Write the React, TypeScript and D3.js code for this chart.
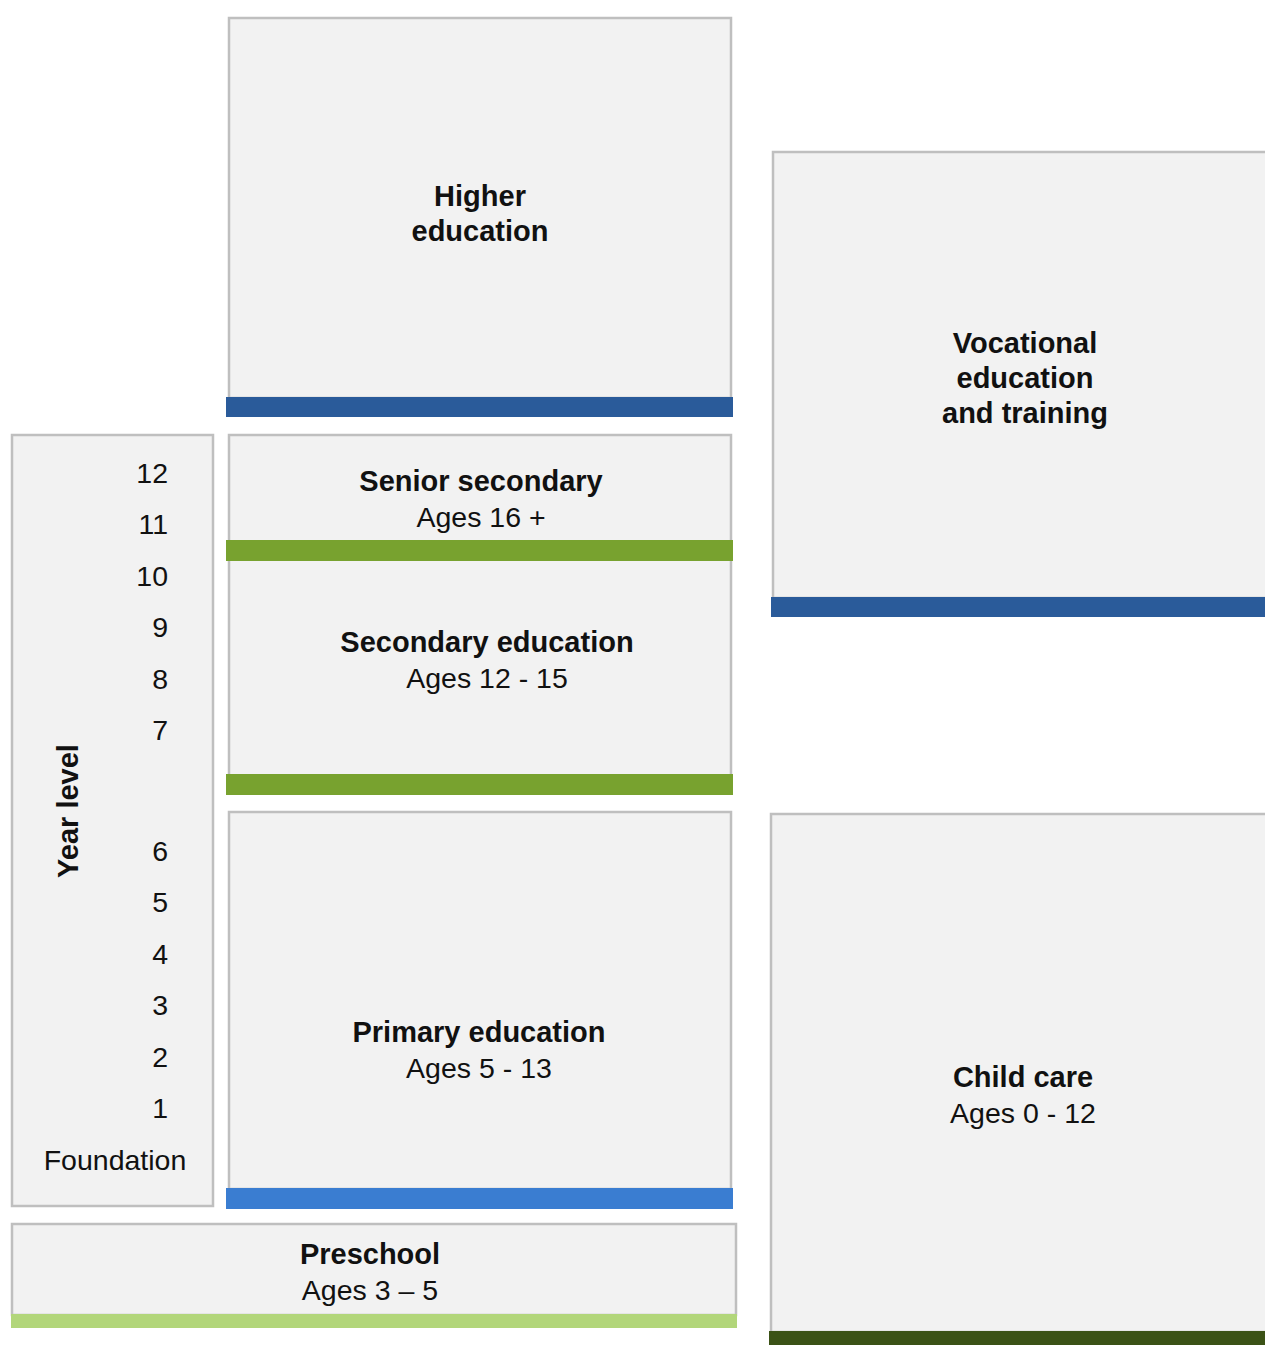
import React from "react";
import * as d3 from "d3";

// ---- data ----
const stageNames = [
  "Higher education",
  "Vocational education and training",
  "Senior secondary",
  "Secondary education",
  "Primary education",
  "Child care",
  "Preschool",
];
const stageTitleLines = [
  ["Higher", "education"],
  ["Vocational", "education", "and training"],
  ["Senior secondary"],
  ["Secondary education"],
  ["Primary education"],
  ["Child care"],
  ["Preschool"],
];
const stageAges = ["", "", "Ages 16 +", "Ages 12 - 15", "Ages 5 - 13", "Ages 0 - 12", "Ages 3 – 5"];
const upperYearLevels = [12, 11, 10, 9, 8, 7];
const lowerYearLevels = [6, 5, 4, 3, 2, 1, 0];
const yearLabel = (v: number) => (v === 0 ? "Foundation" : String(v));
const axisTitle = "Year level";

// ---- layout (positions / styles) ----
const W = 1265;
const H = 1345;
const FONT = "'Liberation Sans', Arial, sans-serif";
const BOX_FILL = "#F2F2F2";
const BOX_STROKE = "#BFBFBF";

type Box = { x0: number; y0: number; x1: number; y1: number };
type Bar = { x0: number; x1: number; y0: number; y1: number; color: string };

const boxes: Box[] = [
  { x0: 229, y0: 18, x1: 731, y1: 398 },
  { x0: 773, y0: 152, x1: 1268, y1: 598 },
  { x0: 229, y0: 435, x1: 731, y1: 776 },
  { x0: 229, y0: 812, x1: 731, y1: 1189 },
  { x0: 12, y0: 435, x1: 213, y1: 1206 },
  { x0: 771, y0: 814, x1: 1268, y1: 1332 },
  { x0: 12, y0: 1224, x1: 736, y1: 1315 },
];
const bars: Bar[] = [
  { x0: 226, x1: 733, y0: 397, y1: 417, color: "#2A5B9A" },
  { x0: 771, x1: 1265, y0: 597, y1: 617, color: "#2A5B9A" },
  { x0: 226, x1: 733, y0: 540, y1: 561, color: "#78A22F" },
  { x0: 226, x1: 733, y0: 774, y1: 795, color: "#78A22F" },
  { x0: 226, x1: 733, y0: 1188, y1: 1209, color: "#3A7DD1" },
  { x0: 769, x1: 1265, y0: 1331, y1: 1345, color: "#3B5216" },
  { x0: 11, x1: 737, y0: 1314, y1: 1328, color: "#B2D67A" },
];
// text anchor for each stage [cx, firstLineY]
const stageTextPos: [number, number][] = [
  [480, 196],
  [1025, 343],
  [481, 481],
  [487, 642],
  [479, 1032],
  [1023, 1077],
  [370, 1254],
];

const LINE = 35;
const FS_BOLD = 29;
const FS = 28.5;

export default function App() {
  React.useEffect(() => {
    document.body.style.margin = "0";
    document.body.style.overflow = "hidden";
  }, []);

  const yUpper = d3.scaleLinear().domain([12, 7]).range([473, 730]);
  const yLower = d3.scaleLinear().domain([6, 0]).range([851, 1160]);

  return (
    <svg
      width={W}
      height={H}
      style={{ position: "absolute", left: 0, top: 0, display: "block", background: "#fff" }}
      fontFamily={FONT}
    >
      {boxes.map((b, i) => (
        <rect
          key={"box" + i}
          x={b.x0}
          y={b.y0}
          width={b.x1 - b.x0}
          height={b.y1 - b.y0}
          fill={BOX_FILL}
          stroke={BOX_STROKE}
          strokeWidth={2.5}
        />
      ))}
      {bars.map((b, i) => (
        <rect key={"bar" + i} x={b.x0} y={b.y0} width={b.x1 - b.x0} height={b.y1 - b.y0} fill={b.color} />
      ))}
      {stageNames.map((name, i) => {
        const [cx, y0] = stageTextPos[i];
        const lines = stageTitleLines[i];
        return (
          <g key={name} textAnchor="middle" fill="#111">
            {lines.map((ln, j) => (
              <text key={j} x={cx} y={y0 + j * LINE} dy="0.35em" fontSize={FS_BOLD} fontWeight="bold">
                {ln}
              </text>
            ))}
            {stageAges[i] && (
              <text x={cx} y={y0 + lines.length * LINE + 1} dy="0.35em" fontSize={FS}>
                {stageAges[i]}
              </text>
            )}
          </g>
        );
      })}
      {upperYearLevels.map((v) => (
        <text key={"u" + v} x={168} y={yUpper(v)} dy="0.35em" fontSize={FS} textAnchor="end" fill="#111">
          {yearLabel(v)}
        </text>
      ))}
      {lowerYearLevels.map((v) => (
        <text
          key={"l" + v}
          x={v === 0 ? 115 : 168}
          y={yLower(v)}
          dy="0.35em"
          fontSize={FS}
          textAnchor={v === 0 ? "middle" : "end"}
          fill="#111"
        >
          {yearLabel(v)}
        </text>
      ))}
      <text
        transform="translate(68,811) rotate(-90)"
        dy="0.35em"
        textAnchor="middle"
        fontSize={FS_BOLD}
        fontWeight="bold"
        fill="#111"
      >
        {axisTitle}
      </text>
    </svg>
  );
}
